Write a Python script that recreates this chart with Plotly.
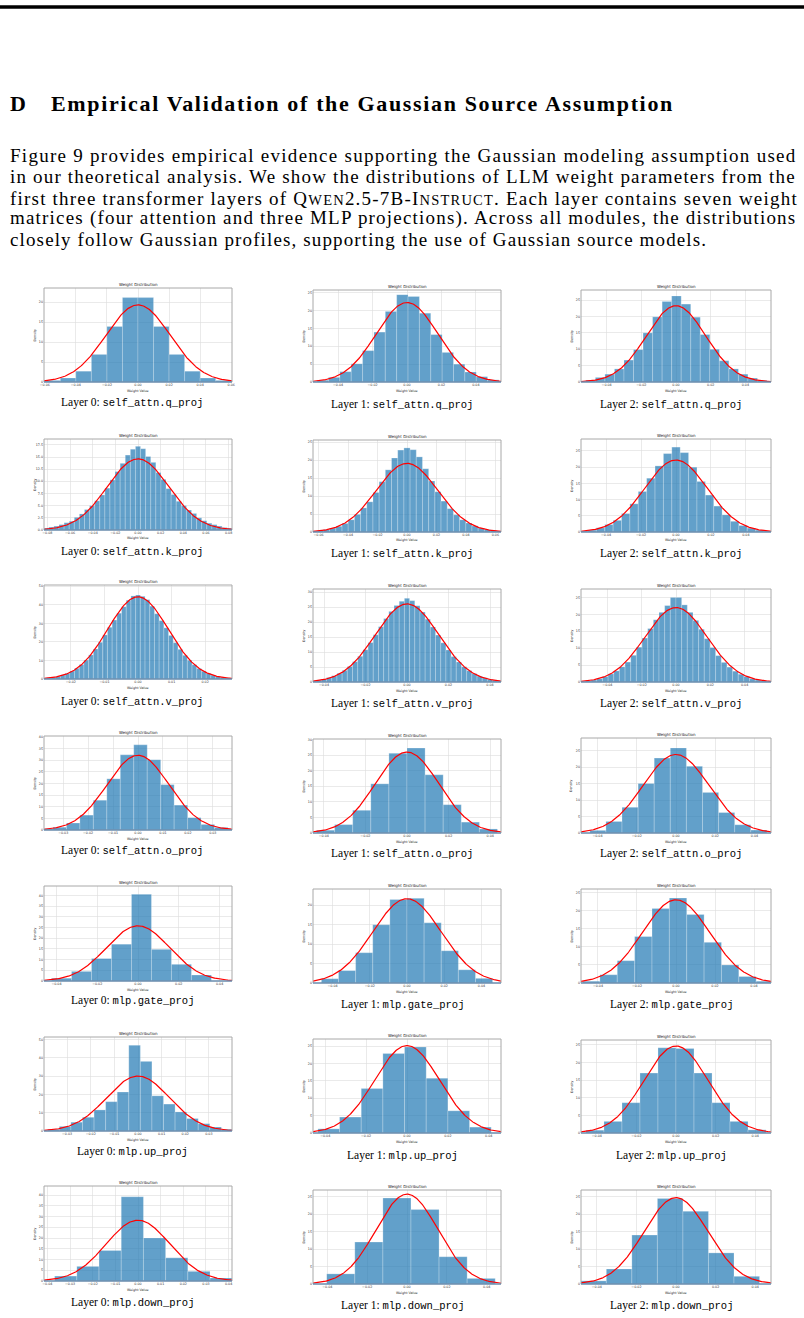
import numpy as np
import plotly.graph_objects as go

W, H = 804, 1318

# ------------------------------------------------------------------ data
MODULES = ["self_attn.q_proj", "self_attn.k_proj", "self_attn.v_proj",
           "self_attn.o_proj", "mlp.gate_proj", "mlp.up_proj", "mlp.down_proj"]
LAYERS = ["Layer 0", "Layer 1", "Layer 2"]

# histogram: first bin edge, bin width, density per bin (Layer 0, 1, 2)
q_first_edge = [-0.0600, -0.0522, -0.0520]
q_bin_width = [0.0100, 0.0066, 0.0055]
q_density_L0 = [0.4, 1.0, 2.7, 6.9, 13.9, 21.1, 21.1, 13.9, 6.9, 2.7, 1.0, 0.4]
q_density_L1 = [0.5, 1.3, 2.9, 5.1, 8.8, 14.0, 19.8, 24.5, 24.0, 19.3, 13.3, 8.3,
                5.0, 2.8, 1.5, 0.6]
q_density_L2 = [0.6, 1.4, 2.4, 4.0, 6.7, 9.9, 15.0, 19.9, 24.6, 26.3, 23.8, 19.8,
                14.5, 10.0, 6.5, 4.0, 2.4, 1.2, 0.5]
q_fit_sigma = [0.0207, 0.01789, 0.01713]

k_first_edge = [-0.08325, -0.0651, -0.0552]
k_bin_width = [0.0045, 0.0042, 0.0048]
k_density_L0 = [0.4, 0.6, 0.8, 1.1, 1.5, 1.8, 2.6, 3.3, 4.2, 5.0, 6.0, 7.2, 8.6, 10.3,
                12.0, 13.7, 15.4, 16.6, 17.2, 16.7, 15.1, 13.9, 11.8, 10.4, 8.5, 7.3,
                5.9, 5.0, 4.1, 3.4, 2.5, 1.9, 1.4, 1.1, 0.8, 0.5, 0.4]
k_density_L1 = [0.3, 0.45, 0.7, 1.1, 1.6, 2.4, 3.4, 4.9, 6.7, 8.4, 11.0, 14.0, 17.3,
                20.6, 22.8, 23.4, 22.9, 20.9, 17.6, 14.2, 11.2, 8.6, 6.5, 4.8, 3.4,
                2.5, 1.7, 1.1, 0.7, 0.45, 0.3]
k_density_L2 = [0.3, 0.6, 1.3, 2.3, 3.6, 5.7, 8.7, 12.5, 16.6, 20.4, 24.2, 26.2,
                24.5, 20.0, 15.6, 11.4, 8.0, 5.3, 3.3, 2.0, 1.2, 0.6, 0.3]
k_fit_sigma = [0.0273, 0.02089, 0.01795]

v_first_edge = [-0.0273, -0.04625, -0.0528]
v_bin_width = [0.0014, 0.0025, 0.0033]
v_density_L0 = [0.7, 1.0, 1.5, 2.2, 3.1, 4.3, 5.8, 7.8, 10.2, 13.0, 16.2, 19.8, 23.8,
                27.9, 31.8, 35.5, 39.0, 42.5, 44.8, 45.3, 44.6, 42.8, 39.3, 35.2,
                31.5, 27.6, 23.5, 19.6, 16.0, 12.8, 10.1, 7.7, 5.7, 4.2, 3.0, 2.1,
                1.4, 0.9, 0.6]
v_density_L1 = [0.4, 0.65, 1.0, 1.5, 2.1, 2.9, 3.9, 5.2, 6.8, 8.6, 10.8, 13.2, 15.8,
                18.5, 21.2, 23.6, 25.6, 27.0, 28.0, 27.2, 25.5, 23.4, 21.0, 18.4,
                15.7, 13.1, 10.7, 8.5, 6.7, 5.1, 3.8, 2.8, 2.0, 1.4, 0.95, 0.6, 0.4]
v_density_L2 = [0.35, 0.6, 1.0, 1.6, 2.4, 3.3, 4.5, 5.9, 7.9, 10.3, 13.0, 15.8, 18.4,
                20.6, 22.6, 25.0, 25.0, 22.8, 20.6, 18.2, 15.6, 12.8, 10.2, 7.8, 5.8,
                4.4, 3.2, 2.3, 1.6, 1.0, 0.6, 0.35]
v_fit_sigma = [0.0090, 0.01528, 0.01813]

o_first_edge = [-0.0395, -0.0435, -0.0439]
o_bin_width = [0.0054, 0.0087, 0.0082]
o_density_L0 = [0.6, 1.2, 3.0, 6.4, 12.8, 22.0, 32.3, 36.6, 30.2, 19.5, 10.7, 5.3,
                2.4, 1.1, 0.5]
o_density_L1 = [0.9, 2.7, 7.3, 15.8, 25.6, 27.3, 18.7, 9.1, 3.5, 1.3]
o_density_L2 = [0.8, 3.5, 7.8, 15.0, 22.7, 25.8, 20.2, 12.3, 6.2, 2.5, 0.9]
o_fit_sigma = [0.01242, 0.01534, 0.01676]

gate_first_edge = [-0.0424, -0.0460, -0.0479]
gate_bin_width = [0.0098, 0.0092, 0.0089]
gate_density_L0 = [1.3, 4.5, 10.5, 17.2, 40.5, 14.8, 7.8, 2.8]
gate_density_L1 = [1.1, 3.2, 7.8, 15.0, 21.5, 21.8, 15.5, 8.3, 3.4, 1.2]
gate_density_L2 = [0.5, 2.3, 6.2, 12.9, 20.7, 23.6, 19.0, 11.3, 5.0, 1.8, 0.5]
gate_fit_sigma = [0.01546, 0.01838, 0.01727]

up_first_edge = [-0.0382, -0.0436, -0.0455]
up_bin_width = [0.0049, 0.0106, 0.0091]
up_density_L0 = [1.0, 2.5, 4.8, 7.5, 11.5, 16.0, 21.3, 46.8, 38.0, 19.2, 14.7, 10.4,
                 6.8, 4.0, 2.2, 1.0]
up_density_L1 = [1.2, 4.6, 12.8, 22.9, 24.8, 15.8, 6.4, 1.7]
up_density_L2 = [0.8, 3.3, 8.6, 17.0, 24.2, 24.0, 17.0, 8.6, 3.3, 0.9]
up_fit_sigma = [0.0133, 0.01583, 0.01615]

down_first_edge = [-0.0368, -0.0403, -0.0481]
down_bin_width = [0.0098, 0.0141, 0.0129]
down_density_L0 = [2.3, 6.8, 14.2, 39.2, 20.0, 10.8, 4.5, 1.4]
down_density_L1 = [2.9, 12.0, 24.6, 21.3, 7.8, 1.6]
down_density_L2 = [0.9, 4.3, 14.0, 24.5, 20.8, 8.9, 2.2]
down_fit_sigma = [0.0141, 0.01552, 0.01615]

# axis limits (half x-range, y max) and tick steps per module (Layer 0, 1, 2)
x_half_range = [[0.0605, 0.0546, 0.0548], [0.083, 0.0638, 0.0544],
                [0.028, 0.0453, 0.0554], [0.0377, 0.0452, 0.0484],
                [0.0461, 0.0505, 0.0487], [0.0398, 0.046, 0.048],
                [0.0415, 0.0472, 0.048]]
y_max = [[23.5, 25.8, 28.1], [18.7, 25.6, 28.7], [50.7, 31.1, 27.5],
         [40.4, 30.2, 28.8], [44.4, 24.2, 26.1], [51.3, 27.1, 26.4],
         [44.2, 26.9, 26.9]]
x_tick_step = [[0.02, 0.02, 0.02], [0.02, 0.02, 0.02], [0.01, 0.02, 0.02],
               [0.01, 0.02, 0.02], [0.02, 0.02, 0.02], [0.01, 0.02, 0.02],
               [0.01, 0.02, 0.02]]
y_tick_step = [[5, 5, 5], [2.5, 5, 5], [10, 5, 5], [5, 5, 5], [5, 5, 5],
               [10, 5, 5], [5, 5, 5]]

FIRST_EDGE = [q_first_edge, k_first_edge, v_first_edge, o_first_edge,
              gate_first_edge, up_first_edge, down_first_edge]
BIN_WIDTH = [q_bin_width, k_bin_width, v_bin_width, o_bin_width,
             gate_bin_width, up_bin_width, down_bin_width]
DENSITY = [[q_density_L0, q_density_L1, q_density_L2],
           [k_density_L0, k_density_L1, k_density_L2],
           [v_density_L0, v_density_L1, v_density_L2],
           [o_density_L0, o_density_L1, o_density_L2],
           [gate_density_L0, gate_density_L1, gate_density_L2],
           [up_density_L0, up_density_L1, up_density_L2],
           [down_density_L0, down_density_L1, down_density_L2]]
FIT_SIGMA = [q_fit_sigma, k_fit_sigma, v_fit_sigma, o_fit_sigma,
             gate_fit_sigma, up_fit_sigma, down_fit_sigma]

HEADING_LABEL = "D"
HEADING = "Empirical Validation of the Gaussian Source Assumption"
SC = "<span style='font-size:14.5px'>"
PARAGRAPH = [
    "Figure 9 provides empirical evidence supporting the Gaussian modeling assumption used",
    "in our theoretical analysis. We show the distributions of LLM weight parameters from the",
    "first three transformer layers of Q" + SC + "WEN</span>2.5-7B-I" + SC
    + "NSTRUCT</span>. Each layer contains seven weight",
    "matrices (four attention and three MLP projections). Across all modules, the distributions",
    "closely follow Gaussian profiles, supporting the use of Gaussian source models.",
]

# ------------------------------------------------------------------ layout geometry (px)
BOX_X = [(44, 232), (313, 501), (581, 771)]
BOX_Y = [
    [(288, 382), (439, 530), (585, 679), (736, 830), (886, 981), (1037, 1131), (1186, 1281)],
    [(290, 382), (440, 532), (589, 682), (739, 833), (889, 983), (1039, 1133), (1190, 1284)],
    [(290, 382), (439, 532), (589, 682), (738, 833), (889, 983), (1040, 1133), (1190, 1284)],
]
CAPTION_X = [132, 402, 671]
CAPTION_Y = [[402, 551, 701, 851, 1000, 1151, 1302],
             [404, 553, 703, 854, 1004, 1155, 1305],
             [404, 553, 703, 854, 1004, 1155, 1305]]
PARA_Y = [156, 177, 198, 218, 239]
PARA_SPACING = [1.27, 1.18, 1.21, 1.20, 1.13]   # letter spacing (px) to fill the column

SERIF = "Liberation Serif"
MONO = "Liberation Mono"
SANS = "DejaVu Sans"
BAR_COLOR = "rgba(31,119,180,0.7)"


def px(x):
    return x / W


def py(y):
    return 1 - y / H


def note(text, x, y, size, family, color="black", xanchor="center", angle=0):
    return dict(text=text, x=px(x), y=py(y), xref="paper", yref="paper",
                xanchor=xanchor, yanchor="middle", showarrow=False, textangle=angle,
                font=dict(family=family, size=size, color=color))


def spaced(text, ls):
    return "<span style='letter-spacing:%.2fpx'>%s</span>" % (ls, text)


fig = go.Figure()
layout = {}
annotations = []
shapes = []

# top rule
shapes.append(dict(type="line", xref="paper", yref="paper", x0=0, x1=1,
                   y0=py(7), y1=py(7), line=dict(color="black", width=3.5)))

annotations.append(note("<b>" + HEADING_LABEL + "</b>", 8, 103, 22, SERIF, xanchor="left"))
annotations.append(note("<b>" + spaced(HEADING, 1.65) + "</b>", 49, 103, 22, SERIF,
                        xanchor="left"))
for line, yy, ls in zip(PARAGRAPH, PARA_Y, PARA_SPACING):
    annotations.append(note(spaced(line, ls), 8, yy, 19, SERIF, xanchor="left"))

for r, module in enumerate(MODULES):
    for c in range(3):
        n = r * 3 + c + 1
        sfx = "" if n == 1 else str(n)
        xa, ya = "x" + sfx, "y" + sfx
        dens = DENSITY[r][c]
        w = BIN_WIDTH[r][c]
        edges = FIRST_EDGE[r][c] + w * np.arange(len(dens) + 1)
        centers = (edges[:-1] + edges[1:]) / 2
        fig.add_trace(go.Bar(
            x=centers, y=dens, width=[w] * len(dens), xaxis=xa, yaxis=ya,
            marker=dict(color=BAR_COLOR,
                        line=dict(color="rgba(255,255,255,0.6)", width=0.4)),
            showlegend=False, hoverinfo="skip"))
        xh = x_half_range[r][c]
        sig = FIT_SIGMA[r][c]
        xs = np.linspace(-xh, xh, 300)
        ys = np.exp(-0.5 * (xs / sig) ** 2) / (sig * np.sqrt(2 * np.pi))
        fig.add_trace(go.Scatter(x=xs, y=ys, mode="lines", xaxis=xa, yaxis=ya,
                                 line=dict(color="red", width=1.2),
                                 showlegend=False, hoverinfo="skip"))

        left, right = BOX_X[c]
        top, bottom = BOX_Y[c][r]
        common = dict(showgrid=True, gridcolor="#dcdcdc", gridwidth=0.6,
                      showline=False, zeroline=False, ticks="",
                      tickfont=dict(family=SANS, size=3.3, color="#333333"),
                      automargin=False, fixedrange=True)
        layout["xaxis" + sfx] = dict(domain=[px(left), px(right)], range=[-xh, xh],
                                     anchor=ya, tick0=0, dtick=x_tick_step[r][c],
                                     tickformat=".2f", **common)
        yfmt = ".1f" if y_tick_step[r][c] == 2.5 else "d"
        layout["yaxis" + sfx] = dict(domain=[py(bottom), py(top)], range=[0, y_max[r][c]],
                                     anchor=xa, tick0=0, dtick=y_tick_step[r][c],
                                     tickformat=yfmt, **common)
        # frame and baseline
        shapes.append(dict(type="rect", xref="paper", yref="paper",
                           x0=px(left), x1=px(right), y0=py(bottom), y1=py(top),
                           line=dict(color="#a8a8a8", width=1), layer="above"))
        shapes.append(dict(type="line", xref="paper", yref="paper",
                           x0=px(left), x1=px(right), y0=py(bottom), y1=py(bottom),
                           line=dict(color="#4a7fb0", width=1), layer="above"))
        cx = (left + right) / 2
        annotations.append(note("Weight Distribution", cx, top - 3.6, 4, SANS, "#222222"))
        annotations.append(note("Weight Value", cx, bottom + 8.5, 3.3, SANS, "#222222"))
        annotations.append(note("Density", left - 9.5, (top + bottom) / 2, 3.3, SANS,
                                "#222222", angle=-90))
        caption = (LAYERS[c] + ": <span style='font-family:" + MONO
                   + "; font-size:10.5px'>" + module + "</span>")
        annotations.append(note(caption, CAPTION_X[c], CAPTION_Y[c][r], 11.5, SERIF))

fig.update_layout(
    template="none", width=W, height=H, autosize=False,
    margin=dict(l=0, r=0, t=0, b=0, pad=0),
    paper_bgcolor="white", plot_bgcolor="white",
    barmode="overlay", showlegend=False,
    annotations=annotations, shapes=shapes, **layout)

fig.write_html("out.html", config={"displayModeBar": False, "staticPlot": True})
